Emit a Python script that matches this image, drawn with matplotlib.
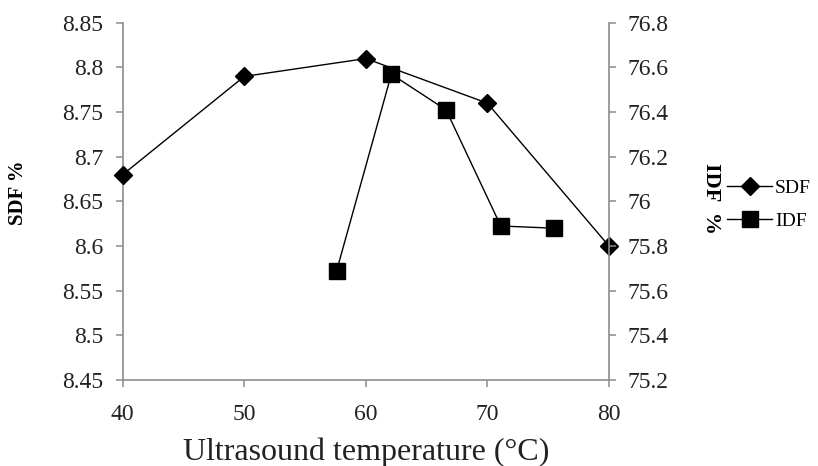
import matplotlib
matplotlib.use("Agg")
import matplotlib.pyplot as plt

# SDF series (left axis)
sdf_temp = [40, 50, 60, 70, 80]
sdf_vals = [8.68, 8.79, 8.81, 8.76, 8.60]

# IDF series (right axis), plotted offset along the x axis as in the source
idf_temp = [57.6, 62.1, 66.6, 71.1, 75.5]
idf_vals = [75.69, 76.57, 76.41, 75.89, 75.88]

left_ticks = [8.45, 8.5, 8.55, 8.6, 8.65, 8.7, 8.75, 8.8, 8.85]
left_labels = ["8.45", "8.5", "8.55", "8.6", "8.65", "8.7", "8.75", "8.8", "8.85"]
right_ticks = [75.2, 75.4, 75.6, 75.8, 76.0, 76.2, 76.4, 76.6, 76.8]
right_labels = ["75.2", "75.4", "75.6", "75.8", "76", "76.2", "76.4", "76.6", "76.8"]
x_ticks = [40, 50, 60, 70, 80]

plt.rcParams["font.family"] = ["Liberation Serif", "DejaVu Serif"]
axis_grey = "#8c8c8c"
text_col = "#222222"

fig = plt.figure(figsize=(8.18, 4.66), dpi=100)
ax = fig.add_axes([0.150, 0.1845, 0.5945, 0.7665])
ax2 = ax.twinx()

l1, = ax.plot(sdf_temp, sdf_vals, color="black", lw=1.0, marker="D",
              markersize=9.5, clip_on=False, zorder=3, label="SDF")
l2, = ax2.plot(idf_temp, idf_vals, color="black", lw=1.0, marker="s",
               markersize=12, clip_on=False, zorder=3, label="IDF")

ax.set_xlim(40, 80)
ax.set_ylim(8.45, 8.85)
ax2.set_ylim(75.2, 76.8)

ax.set_xticks(x_ticks)
ax.set_yticks(left_ticks)
ax.set_yticklabels(left_labels)
ax2.set_yticks(right_ticks)
ax2.set_yticklabels(right_labels)

for a in (ax, ax2):
    a.spines["top"].set_visible(False)
    for s in ("left", "right", "bottom"):
        a.spines[s].set_color(axis_grey)
        a.spines[s].set_linewidth(1.2)
    a.tick_params(direction="out", length=5, width=1.1, color=axis_grey,
                  labelsize=17, labelcolor=text_col)
ax.spines["right"].set_visible(False)
ax2.spines["left"].set_visible(False)
ax2.spines["bottom"].set_visible(False)
ax.tick_params(axis="x", pad=12)
ax.tick_params(axis="y", pad=9)
ax2.tick_params(axis="y", pad=8.5)

ax.set_xlabel("Ultrasound temperature (°C)", fontsize=23, color=text_col, labelpad=9)
ax.set_ylabel("SDF %", fontsize=15, fontweight="bold")
ax.yaxis.set_label_coords(-0.195, 0.525)
ax2.set_ylabel("IDF  %", fontsize=16, fontweight="bold", rotation=-90,
               va="center")
ax2.yaxis.set_label_coords(1.21, 0.507)

fig.legend([l1, l2], ["SDF", "IDF"], loc="center left",
           bbox_to_anchor=(0.889, 0.561), frameon=False, fontsize=14,
           handlelength=2.3, handletextpad=0.15, labelspacing=0.8,
           borderpad=0, borderaxespad=0, markerscale=1.0)

fig.savefig("out.png", dpi=100)
